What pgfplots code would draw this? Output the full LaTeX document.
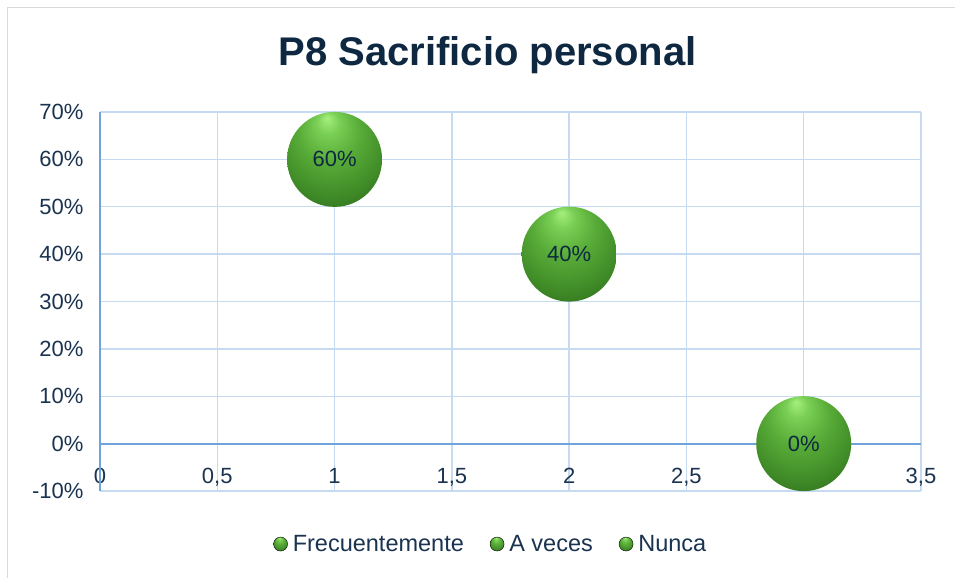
\documentclass[border=0pt]{standalone}
\usepackage{pgfplots}
\pgfplotsset{compat=1.18}
\usepackage{fontspec}
\setmainfont{Liberation Sans}
\definecolor{titlec}{HTML}{0E2841}
\definecolor{textc}{HTML}{1A3350}
\definecolor{gridc}{HTML}{C6DBF1}
\definecolor{axisc}{HTML}{6FA3DA}
\definecolor{gLight}{HTML}{A6F07E}
\definecolor{gL2}{HTML}{7ACF55}
\definecolor{gMid}{HTML}{58AC38}
\definecolor{gMid2}{HTML}{3F8A27}
\definecolor{gDark}{HTML}{276017}
\definecolor{gDarker}{HTML}{18400E}
\pgfdeclareradialshading{greenball}{\pgfpoint{-4bp}{22bp}}{%
  color(0bp)=(gLight); color(6bp)=(gL2); color(16bp)=(gMid);
  color(29bp)=(gMid2); color(41bp)=(gDark); color(50bp)=(gDarker)}
\pgfdeclareplotmark{gball}{%
  \pgfpathcircle{\pgfpointorigin}{\pgfplotmarksize}%
  \pgfshadepath{greenball}{0}%
  \pgfusepath{discard}}
\begin{document}
\begin{tikzpicture}[x=1pt,y=1pt]
\useasboundingbox (0,0) rectangle (955,578);
\draw[color=black!15, line width=1pt] (7,0) -- (7,570) -- (955,570);
\node[anchor=base, font=\bfseries\fontsize{40}{48}\selectfont, text=titlec] at (487.5,512) {P8 Sacrificio personal};
\begin{axis}[
  at={(100pt,87pt)}, anchor=south west,
  scale only axis, width=821pt, height=379pt,
  xmin=0, xmax=3.5, ymin=-10, ymax=70,
  enlargelimits=false, clip=false,
  axis x line=middle, axis y line=left,
  axis line style={-, color=axisc, line width=1.5pt},
  hide obscured x ticks=false, hide obscured y ticks=false,
  xtick={0,0.5,1,1.5,2,2.5,3,3.5},
  ytick={-10,0,10,20,30,40,50,60,70},
  major tick length=0pt,
  grid=major,
  major grid style={color=gridc, line width=1.3pt},
  tick label style={font=\fontsize{22}{26}\selectfont, text=textc},
  xticklabel style={yshift=-21pt},
  yticklabel style={xshift=-13pt},
  /pgf/number format/use comma,
  /pgf/number format/assume math mode=true,
  xticklabel={\pgfmathprintnumber[/pgf/number format/use comma]{\tick}},
  yticklabel={\pgfmathprintnumber[fixed,precision=0]{\tick}\%},
  legend columns=3,
  legend style={at={(0.476,-0.14)}, anchor=center, draw=none, fill=none,
    font=\fontsize{23.5}{28}\selectfont, text=textc,
    /tikz/every even column/.append style={column sep=24pt},
    /tikz/every odd column/.append style={column sep=3pt}},
  legend image code/.code={\shade[shading=greenball] (0pt,0pt) circle (7pt);},
  every node near coord/.append style={anchor=center, font=\fontsize{22}{26}\selectfont, text=titlec},
]
\draw[color=axisc, line width=1.8pt] (axis cs:0,-10) -- (axis cs:0,70);
\draw[color=axisc, line width=1.8pt] (axis cs:0,0) -- (axis cs:3.5,0);
\addplot[only marks, mark=gball, mark size=47.5pt, point meta=y,
  nodes near coords={\pgfmathprintnumber[fixed,precision=0]{\pgfplotspointmeta}\%}]
  coordinates {(1,60)};
\addlegendentry{Frecuentemente}
\addplot[only marks, mark=gball, mark size=47.5pt, point meta=y,
  nodes near coords={\pgfmathprintnumber[fixed,precision=0]{\pgfplotspointmeta}\%}]
  coordinates {(2,40)};
\addlegendentry{A veces}
\addplot[only marks, mark=gball, mark size=47.5pt, point meta=y,
  nodes near coords={\pgfmathprintnumber[fixed,precision=0]{\pgfplotspointmeta}\%}]
  coordinates {(3,0)};
\addlegendentry{Nunca}
\end{axis}
\end{tikzpicture}
\end{document}
